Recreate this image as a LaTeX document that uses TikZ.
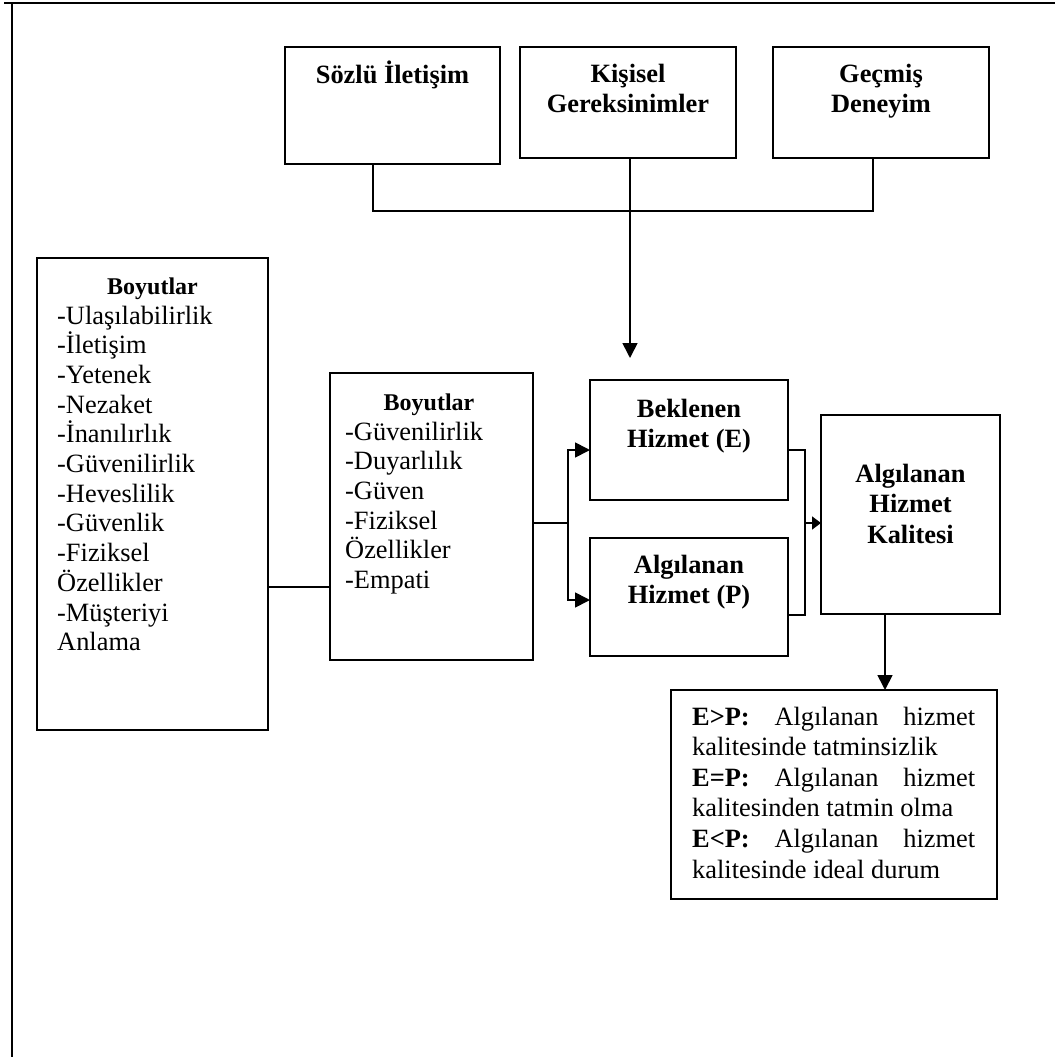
\documentclass[tikz,border=0pt]{standalone}
\usepackage{fontspec}
\setmainfont{Liberation Serif}
\usetikzlibrary{arrows.meta,calc}
\begin{document}
\begin{tikzpicture}[x=1pt,y=-1pt,
  frame/.style={line width=2.2pt},
  box/.style={draw,line width=1.7pt,rectangle,anchor=north west,inner sep=0pt,outer sep=0pt},
  conn/.style={line width=1.7pt},
  arr/.style={conn,-{Triangle[length=15pt,width=15pt]}},
  smallarr/.style={conn,-{Triangle[length=9pt,width=13pt]}},
  head/.style={font=\fontsize{26.4}{30.5}\selectfont\bfseries,align=center,inner sep=0pt,anchor=base},
  title/.style={font=\fontsize{24}{28}\selectfont\bfseries,inner sep=0pt,anchor=base},
  list/.style={font=\fontsize{26.4}{29.7}\selectfont,align=left,inner sep=0pt,anchor=base west},
  note/.style={font=\fontsize{26.4}{30.6}\selectfont,text width=283pt,align=left,inner sep=0pt,anchor=base west},
]
\useasboundingbox (0,0) rectangle (1055,1057);

% page frame
\draw[frame] (4,3) -- (1055,3);
\draw[frame] (12,3) -- (12,1057);

% top row: sources of expectation (multi-line text sits on its last baseline)
\node[box,minimum width=215pt,minimum height=117pt] (sozlu) at (285,47) {};
\node[head] (sozlut) at (392.5,83) {Sözlü İletişim};
\node[box,minimum width=216pt,minimum height=111pt] (kisisel) at (520,47) {};
\node[head] (kisiselt) at (628,112.5) {Kişisel\\Gereksinimler};
\node[box,minimum width=216pt,minimum height=111pt] (gecmis) at (773,47) {};
\node[head] (gecmist) at (881,112.5) {Geçmiş\\Deneyim};

% dimension boxes
\node[box,minimum width=231pt,minimum height=472pt] (boyL) at (37,258) {};
\node[title] (boyLt) at (152.5,294) {Boyutlar};
\node[list] (boyLl) at (57,650.7) {-Ulaşılabilirlik\\-İletişim\\-Yetenek\\-Nezaket\\-İnanılırlık\\-Güvenilirlik\\-Heveslilik\\-Güvenlik\\-Fiziksel\\Özellikler\\-Müşteriyi\\Anlama};

\node[box,minimum width=203pt,minimum height=287pt] (boyM) at (330,373) {};
\node[title] (boyMt) at (429,410) {Boyutlar};
\node[list] (boyMl) at (345,588.5) {-Güvenilirlik\\-Duyarlılık\\-Güven\\-Fiziksel\\Özellikler\\-Empati};

% expected / perceived service
\node[box,minimum width=198pt,minimum height=120pt] (bekl) at (590,380) {};
\node[head] (beklt) at (689,447.5) {Beklenen\\Hizmet (E)};
\node[box,minimum width=198pt,minimum height=118pt] (algi) at (590,538) {};
\node[head] (algit) at (689,603.5) {Algılanan\\Hizmet (P)};

% perceived service quality
\node[box,minimum width=179pt,minimum height=199pt] (kalite) at (821,415) {};
\node[head] (kalitet) at (910.5,543) {Algılanan\\Hizmet\\Kalitesi};

% outcome box (natural interword spaces, first lines spread to full width)
\node[box,minimum width=326pt,minimum height=209pt] (res) at (671,690) {};
\node[note] (rest) at (692,725) {\spaceskip=0pt\xspaceskip=0pt\textbf{E>P:}\hfill Algılanan\hfill hizmet\\kalitesinde tatminsizlik\\\textbf{E=P:}\hfill Algılanan\hfill hizmet\\kalitesinden tatmin olma\\\textbf{E<P:}\hfill Algılanan\hfill hizmet\\kalitesinde ideal durum\hspace*{\fill}};

% connectors
\coordinate (jl) at (373,211);
\coordinate (jr) at (873,211);
\draw[conn] (sozlu.south -| jl) -- (jl) -- (jr) -- (gecmis.south -| jr);
\coordinate (tipK) at (630,358);
\draw[arr] (kisisel.south -| tipK) -- (tipK);

\coordinate (lm) at (0,587);
\draw[conn] (boyL.east |- lm) -- (boyM.west |- lm);

\coordinate (fork) at (568,523);
\coordinate (fu) at (568,450);
\coordinate (fd) at (568,600);
\draw[conn] (boyM.east |- fork) -- (fork);
\draw[arr] (fork) -- (fu) -- (bekl.west |- fu);
\draw[arr] (fork) -- (fd) -- (algi.west |- fd);

\coordinate (ru) at (805,450);
\coordinate (rd) at (805,615);
\coordinate (rm) at (805,523);
\draw[conn] (bekl.east |- ru) -- (ru) -- (rd) -- (algi.east |- rd);
\draw[smallarr] (rm) -- (kalite.west |- rm);

\coordinate (kx) at (885,0);
\draw[arr] (kalite.south -| kx) -- (res.north -| kx);
\end{tikzpicture}
\end{document}
